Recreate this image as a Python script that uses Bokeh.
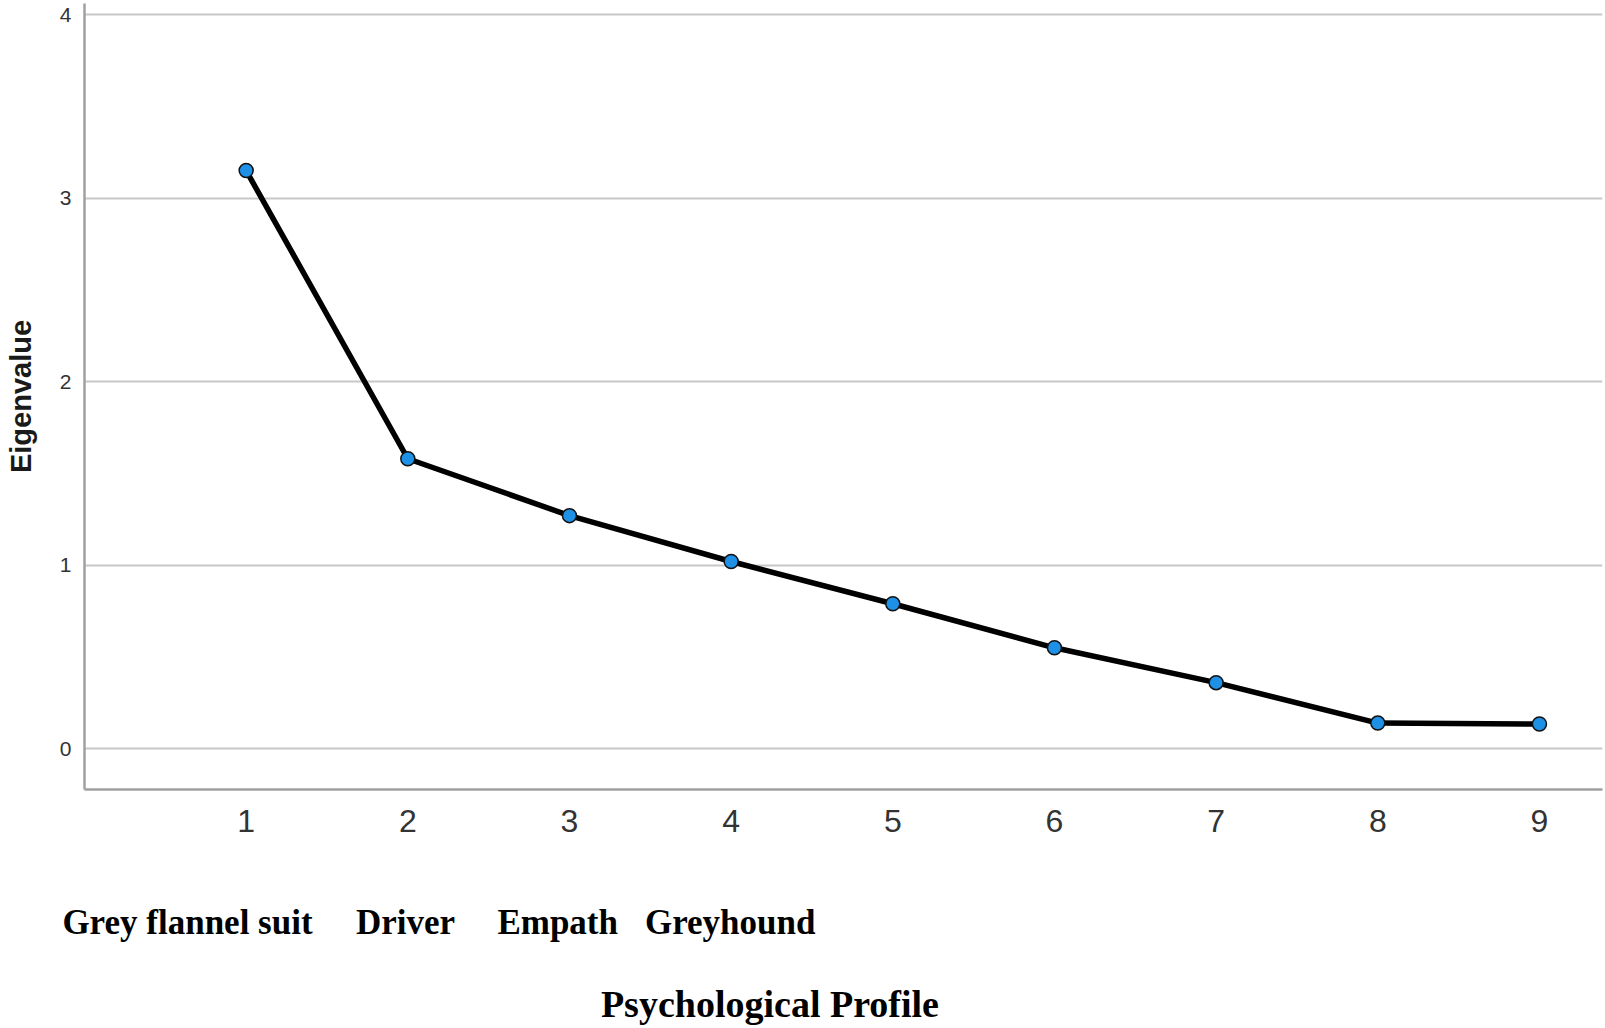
from bokeh.plotting import figure
from bokeh.models import LinearAxis, FixedTicker
from bokeh.embed import file_html
from bokeh.resources import INLINE

# Data
components = [1, 2, 3, 4, 5, 6, 7, 8, 9]
eigenvalues = [3.15, 1.58, 1.27, 1.02, 0.79, 0.55, 0.36, 0.14, 0.135]
y_ticks = [0, 1, 2, 3, 4]
profile_names = ["Grey flannel suit", "Driver", "Empath", "Greyhound"]
# horizontal placement of the profile names and of the x title (in axis units)
profile_label_x = [0.637, 1.986, 2.927, 3.994]
x_title_pos = 4.24
x_title = "Psychological Profile"
y_title = "Eigenvalue"

p = figure(width=1605, height=1028, x_range=(0, 9.39), y_range=(-0.222, 4.06),
           output_backend="svg", toolbar_location=None,
           x_axis_location=None, y_axis_location=None,
           min_border_left=84, min_border_right=3, min_border_top=3, min_border_bottom=239)
p.outline_line_color = None
p.background_fill_color = "white"
p.border_fill_color = "white"

p.xgrid.visible = False
p.ygrid.ticker = FixedTicker(ticks=y_ticks)
p.ygrid.grid_line_color = "#c8c8c8"
p.ygrid.grid_line_width = 2

# y axis
yax = LinearAxis(ticker=FixedTicker(ticks=y_ticks), axis_label=y_title)
yax.axis_line_color = "#a0a0a0"
yax.axis_line_width = 2.5
yax.major_tick_line_color = None
yax.minor_tick_line_color = None
yax.major_label_text_font = "Liberation Sans"
yax.major_label_text_font_size = "21px"
yax.major_label_text_color = "#333333"
yax.major_label_standoff = 7
yax.axis_label_text_font = "Liberation Sans"
yax.axis_label_text_font_style = "bold"
yax.axis_label_text_font_size = "29px"
yax.axis_label_text_color = "#1a1a1a"
yax.axis_label_standoff = 20
p.add_layout(yax, "left")

# x axis with component numbers
xax = LinearAxis(ticker=FixedTicker(ticks=components))
xax.axis_line_color = "#a0a0a0"
xax.axis_line_width = 2.5
xax.major_tick_line_color = None
xax.minor_tick_line_color = None
xax.major_label_text_font = "Liberation Sans"
xax.major_label_text_font_size = "32px"
xax.major_label_text_color = "#333333"
xax.major_label_standoff = 14
p.add_layout(xax, "below")


def text_row(ticks, labels, size, standoff):
    ax = LinearAxis(ticker=FixedTicker(ticks=ticks),
                    major_label_overrides={k: v for k, v in zip(ticks, labels)})
    ax.axis_line_color = None
    ax.major_tick_line_color = None
    ax.minor_tick_line_color = None
    ax.major_label_text_font = "Liberation Serif"
    ax.major_label_text_font_style = "bold"
    ax.major_label_text_font_size = size
    ax.major_label_text_color = "black"
    ax.major_label_standoff = standoff
    return ax


# second row: profile names
p.add_layout(text_row(profile_label_x, profile_names, "35px", 62), "below")
# third row: x title
p.add_layout(text_row([x_title_pos], [x_title], "38px", 32), "below")

p.line(components, eigenvalues, line_color="black", line_width=5.5)
p.scatter(components, eigenvalues, size=14, fill_color="#1e90e6",
          line_color="#111111", line_width=1.5)

open("out.html", "w").write(file_html(p, INLINE))
